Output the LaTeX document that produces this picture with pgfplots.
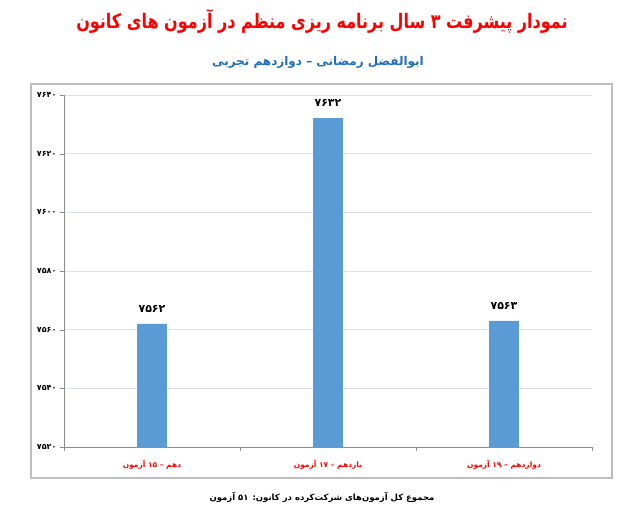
\documentclass[border=0pt]{standalone}
\usepackage{fontspec}
\usepackage{graphicx}
\usepackage{pgfplots}
\pgfplotsset{compat=1.18}
\setmainfont{DejaVu Sans}
\newfontfamily\fa[Script=Arabic]{DejaVu Sans}
\TeXXeTstate=1
\definecolor{barblue}{RGB}{91,155,213}
\definecolor{gridblue}{RGB}{217,226,242}
\definecolor{axisgray}{RGB}{140,140,140}
\definecolor{framegray}{RGB}{190,190,190}
\definecolor{titlered}{RGB}{255,0,0}
\definecolor{subblue}{RGB}{30,110,190}

\begin{document}
\begin{tikzpicture}[x=1pt,y=1pt]
\useasboundingbox (0,0) rectangle (618,517);
\draw[framegray, line width=1.5pt] (31,39) rectangle (612,433);
\begin{axis}[
    at={(64pt,70pt)}, anchor=south west,
    scale only axis,
    width=528pt, height=352pt,
    xmin=-0.5, xmax=2.5,
    ymin=7520, ymax=7640,
    ybar, bar width=29pt,
    axis x line*=bottom, axis y line*=left,
    axis line style={draw=axisgray, line width=0.8pt},
    ytick={7520,7540,...,7640},
    yticklabels={۷۵۲۰,۷۵۴۰,۷۵۶۰,۷۵۸۰,۷۶۰۰,۷۶۲۰,۷۶۴۰},
    yticklabel style={font=\fa\bfseries\fontsize{8}{9}\selectfont, text=black},
    ymajorgrids, grid style={draw=gridblue, line width=0.8pt},
    tick align=outside, major tick length=4pt,
    ytick style={draw=axisgray},
    xtick={0,1,2},
    xticklabels={
      {\beginR دهم – \beginL۱۵\endL{} آزمون\endR},
      {\beginR یازدهم – \beginL۱۷\endL{} آزمون\endR},
      {\beginR دوازدهم – \beginL۱۹\endL{} آزمون\endR}},
    xticklabel style={font=\fa\bfseries\fontsize{7.5}{8}\selectfont, text=titlered, yshift=-6pt},
    xtick style={draw=none},
    extra x ticks={-0.5,0.5,1.5,2.5},
    extra x tick labels={},
    extra x tick style={xtick style={draw=axisgray}},
    point meta=explicit symbolic,
    nodes near coords,
    nodes near coords style={font=\fa\bfseries\fontsize{11}{12}\selectfont, text=black, yshift=8pt},
]
\addplot[fill=barblue, draw=barblue] coordinates {(0,7562) [۷۵۶۲] (1,7632) [۷۶۳۲] (2,7563) [۷۵۶۳]};
\end{axis}
\node[text=titlered, font=\fa\bfseries\fontsize{20}{24}\selectfont] at (322,496)
  {\scalebox{0.8}[1]{\beginR نمودار پیشرفت ۳ سال برنامه ریزی منظم در آزمون های کانون\endR}};
\node[text=subblue, font=\fa\bfseries\fontsize{12}{14}\selectfont] at (318,455)
  {\beginR ابوالفضل رمضانی – دوازدهم تجربی\endR};
\node[text=black, font=\fa\bfseries\fontsize{8.5}{10}\selectfont] at (322,20)
  {\beginR مجموع کل آزمون‌های شرکت‌کرده در کانون: \beginL۵۱\endL{} آزمون\endR};
\end{tikzpicture}
\end{document}
